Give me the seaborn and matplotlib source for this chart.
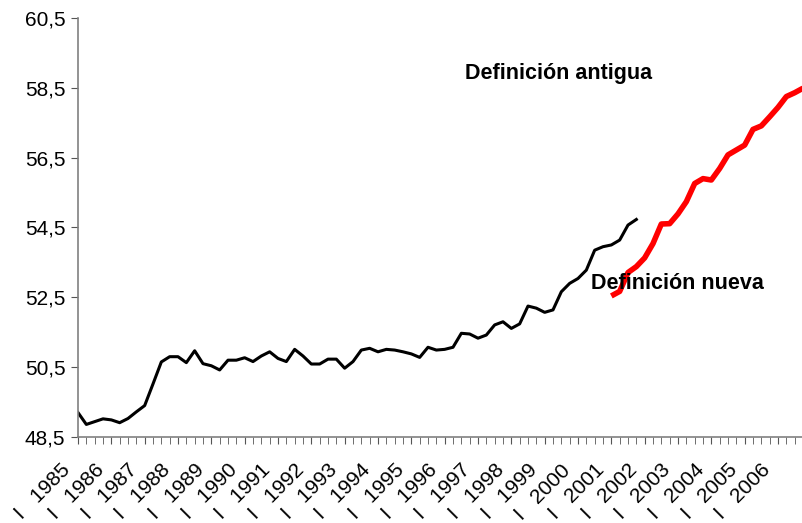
import numpy as np
import pandas as pd
import matplotlib
matplotlib.use("Agg")
import matplotlib.pyplot as plt
import matplotlib.transforms as mtransforms
import seaborn as sns
from matplotlib.ticker import FixedLocator

# quarterly series, 1985 Q1 .. 2006 Q4
years = list(range(1985, 2007))
old_def = [49.20, 48.86, 48.94, 49.02, 48.99, 48.91, 49.03, 49.22, 49.40, 50.02,
           50.65, 50.80, 50.80, 50.63, 50.97, 50.60, 50.54, 50.42, 50.70, 50.70,
           50.77, 50.66, 50.82, 50.94, 50.75, 50.66, 51.01, 50.82, 50.59, 50.59,
           50.73, 50.73, 50.47, 50.66, 50.99, 51.04, 50.94, 51.01, 50.99, 50.94,
           50.88, 50.78, 51.07, 50.99, 51.01, 51.07, 51.47, 51.45, 51.33, 51.42,
           51.71, 51.80, 51.61, 51.74, 52.25, 52.19, 52.07, 52.14, 52.66, 52.90,
           53.04, 53.28, 53.85, 53.95, 54.00, 54.14, 54.57, 54.73]
new_def = [52.54, 52.67, 53.21, 53.38, 53.63, 54.04, 54.60, 54.61, 54.89, 55.24,
           55.76, 55.90, 55.86, 56.19, 56.58, 56.72, 56.86, 57.31, 57.41, 57.67,
           57.94, 58.25, 58.36, 58.49]
new_start = 64  # 2001 Q1

n_quarters = len(years) * 4
y_ticks = [48.5, 50.5, 52.5, 54.5, 56.5, 58.5, 60.5]
x_labels = ["I   " + str(y) for y in years]

plt.rcParams['font.family'] = ['Liberation Sans', 'DejaVu Sans']

fig = plt.figure(figsize=(8.03, 5.23), dpi=100)
ax = fig.add_axes([78 / 803, 86 / 523, 725 / 803, 419 / 523])

sns.lineplot(x=np.arange(len(old_def)), y=old_def, ax=ax, color='black', linewidth=2.2)
sns.lineplot(x=np.arange(new_start, new_start + len(new_def)), y=new_def, ax=ax,
             color='#ff0000', linewidth=4, solid_capstyle='butt')

ax.set_xlim(0, n_quarters - 1)
ax.set_ylim(48.5, 60.5)
ax.set_yticks(y_ticks)
ax.set_yticklabels([f"{v:.1f}".replace('.', ',') for v in y_ticks], fontsize=15)

ax.xaxis.set_major_locator(FixedLocator(list(range(0, n_quarters, 4))))
ax.xaxis.set_minor_locator(FixedLocator(list(range(n_quarters))))
ax.set_xticklabels(x_labels, rotation=45, ha='right', rotation_mode='anchor', fontsize=15)
ax.tick_params(axis='x', which='both', length=5, color='#555555', direction='out', pad=12)
ax.tick_params(axis='y', length=5, color='#555555', direction='out', pad=4)

# nudge the rotated year labels to the left, as in the original
shift = mtransforms.ScaledTranslation(-17 / 100, 0, fig.dpi_scale_trans)
for lab in ax.get_xticklabels():
    lab.set_transform(lab.get_transform() + shift)

for side in ['top', 'right']:
    ax.spines[side].set_visible(False)
for side in ['left', 'bottom']:
    ax.spines[side].set_color('#808080')
    ax.spines[side].set_linewidth(1.2)

ax.set_xlabel('')
ax.set_ylabel('')

ax.text(57.7, 58.92, 'Definición antigua', fontsize=15.5, fontweight='bold',
        ha='center', va='center')
ax.text(71.9, 52.91, 'Definición nueva', fontsize=15.5, fontweight='bold',
        ha='center', va='center')

fig.savefig('out.png', dpi=100)
